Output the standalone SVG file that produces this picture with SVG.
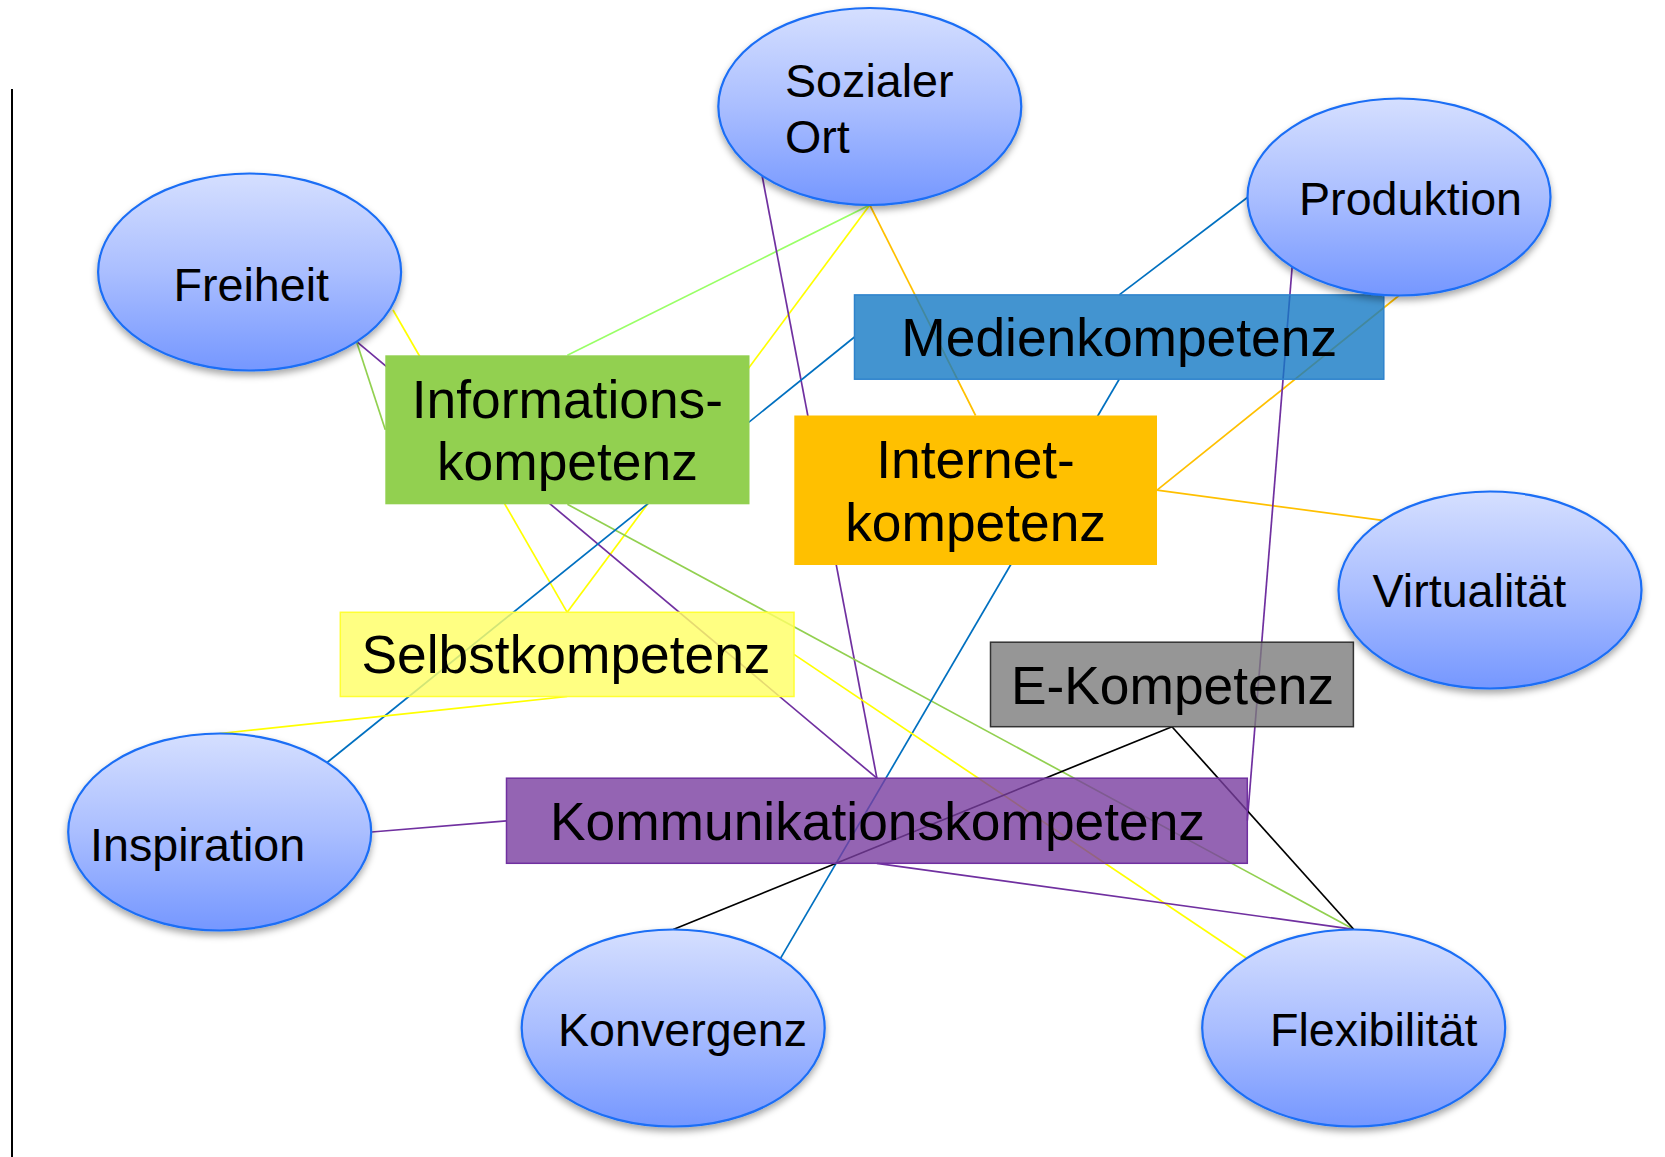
<svg xmlns="http://www.w3.org/2000/svg" width="1665" height="1157" viewBox="0 0 1665 1157">
<defs>
<linearGradient id="eg" x1="0" y1="0" x2="0" y2="1">
<stop offset="0" stop-color="#d5dfff"/>
<stop offset="0.5" stop-color="#aabeff"/>
<stop offset="1" stop-color="#7597ff"/>
</linearGradient>
<filter id="sh" x="-20%" y="-20%" width="140%" height="150%">
<feDropShadow dx="0" dy="4" stdDeviation="3.5" flood-color="#000" flood-opacity="0.35"/>
</filter>
</defs>
<style>
.el{fill:url(#eg);stroke:#1a6ef5;stroke-width:2.2;filter:url(#sh)}
.t{font-family:"Liberation Sans",Arial,sans-serif;fill:#000}
.et{font-size:46.67px}
.bt{font-size:53.33px;text-anchor:middle}
.c{fill:none;stroke-width:1.7}
.y{stroke:#ffff00}.lg{stroke:#99ff66}.g{stroke:#92d050}.o{stroke:#ffc000}.p{stroke:#7030a0}.b{stroke:#0070c0}.k{stroke:#000}
</style>
<rect width="1665" height="1157" fill="#fff"/>
<line x1="12" y1="89" x2="12" y2="1157" stroke="#000" stroke-width="2"/>
<g id="connectors">
<line class="c y" x1="393" y1="310" x2="567.2" y2="612.3"/>
<line class="c y" x1="869.8" y1="205" x2="567.2" y2="612.3"/>
<line class="c lg" x1="869.8" y1="205" x2="567.4" y2="355.3"/>
<line class="c o" x1="869.8" y1="205" x2="975.6" y2="415.5"/>
<line class="c p" x1="762.2" y1="176.2" x2="876.9" y2="778.2"/>
<line class="c p" x1="356.4" y1="341.3" x2="876.9" y2="778.2"/>
<line class="c g" x1="356.4" y1="341.3" x2="385.3" y2="429.8"/>
<line class="c g" x1="567.4" y1="504.3" x2="1353.7" y2="929.3"/>
<line class="c b" x1="327.1" y1="762.5" x2="854.5" y2="337"/>
<line class="c b" x1="1248" y1="197" x2="1119.2" y2="294.9"/>
<line class="c b" x1="1119.2" y1="379.2" x2="780.5" y2="958.4"/>
<line class="c o" x1="1399" y1="295.5" x2="1157" y2="490.2"/>
<line class="c o" x1="1157" y1="490.2" x2="1382.5" y2="520.3"/>
<line class="c p" x1="1292.2" y1="266.3" x2="1247.3" y2="820.8"/>
<line class="c p" x1="371.6" y1="832" x2="506.5" y2="820.8"/>
<line class="c y" x1="219.7" y1="733.5" x2="567.2" y2="696.5"/>
<line class="c y" x1="794" y1="654.4" x2="1246.5" y2="958.3"/>
<line class="c p" x1="876.9" y1="863.3" x2="1353.7" y2="929.3" stroke-width="2"/>
<line class="c k" x1="1172" y1="726.7" x2="673.2" y2="929.5"/>
<line class="c k" x1="1172" y1="726.7" x2="1353.7" y2="929.3"/>
</g>
<g id="n-info">
<rect x="385.3" y="355.3" width="364.2" height="149" fill="#92d050"/>
<text class="t bt" x="567.4" y="417.5">Informations-</text>
<text class="t bt" x="567.4" y="480">kompetenz</text>
</g>
<g id="n-medien">
<rect x="854.5" y="294.9" width="529.3" height="84.3" fill="#1479c4" fill-opacity="0.8" stroke="#2e83cc" stroke-width="1.5"/>
<text class="t bt" x="1119.2" y="356">Medienkompetenz</text>
</g>
<g id="n-internet">
<rect x="794.3" y="415.5" width="362.7" height="149.5" fill="#ffc000"/>
<text class="t bt" x="975.6" y="478">Internet-</text>
<text class="t bt" x="975.6" y="541">kompetenz</text>
</g>
<g id="n-selbst">
<rect x="340.3" y="612.3" width="453.7" height="84.2" fill="#ffff66" fill-opacity="0.82" stroke="#ffff33" stroke-width="1.5"/>
<text class="t bt" x="566" y="672.6">Selbstkompetenz</text>
</g>
<g id="n-ekomp">
<rect x="990.5" y="642.2" width="362.9" height="84.5" fill="#7c7c7c" fill-opacity="0.8" stroke="#333" stroke-width="1.5"/>
<text class="t bt" x="1172.5" y="704">E-Kompetenz</text>
</g>
<g id="n-komm">
<rect x="506.5" y="778.2" width="740.8" height="85.1" fill="#793da0" fill-opacity="0.8" stroke="#7030a0" stroke-width="1.5"/>
<text class="t bt" x="877.5" y="840">Kommunikationskompetenz</text>
</g>
<g id="n-sozialer">
<ellipse class="el" cx="869.8" cy="106.5" rx="151.5" ry="98.5"/>
<text class="t et" x="785" y="96.5">Sozialer</text>
<text class="t et" x="785" y="152.5">Ort</text>
</g>
<g id="n-freiheit">
<ellipse class="el" cx="249.6" cy="272" rx="151.5" ry="98.5"/>
<text class="t et" x="173.5" y="300.5">Freiheit</text>
</g>
<g id="n-produktion">
<ellipse class="el" cx="1399" cy="197" rx="151.5" ry="98.5"/>
<text class="t et" x="1299" y="214.5">Produktion</text>
</g>
<g id="n-virtualitaet">
<ellipse class="el" cx="1490" cy="590" rx="151.5" ry="98.5"/>
<text class="t et" x="1372.5" y="606.5">Virtualität</text>
</g>
<g id="n-inspiration">
<ellipse class="el" cx="219.7" cy="832" rx="151.5" ry="98.5"/>
<text class="t et" x="90" y="860.5">Inspiration</text>
</g>
<g id="n-konvergenz">
<ellipse class="el" cx="673.2" cy="1028" rx="151.5" ry="98.5"/>
<text class="t et" x="558" y="1046">Konvergenz</text>
</g>
<g id="n-flexibilitaet">
<ellipse class="el" cx="1353.7" cy="1028" rx="151.5" ry="98.5"/>
<text class="t et" x="1270" y="1045.5">Flexibilität</text>
</g>
</svg>
